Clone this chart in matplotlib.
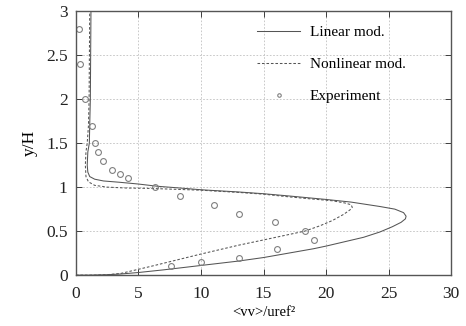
import matplotlib
matplotlib.use("Agg")
import matplotlib.pyplot as plt

# Linear model (solid)
lin_x = [0.0, 1.0, 2.5, 3.5, 5.0, 7.0, 10.0, 13.0, 15.0, 17.0, 19.0, 20.0, 21.5, 23.0,
         24.3, 25.3, 26.0, 26.35, 26.4, 26.2, 25.5, 24.3, 22.0, 20.0, 17.0, 15.0, 13.0,
         10.0, 8.3, 6.5, 5.0, 3.5, 2.2, 1.5, 1.1, 0.95, 0.9, 0.95, 1.07, 1.1, 1.15, 1.2]
lin_y = [0.0, 0.0, 0.005, 0.012, 0.03, 0.06, 0.11, 0.16, 0.2, 0.25, 0.3, 0.33, 0.38, 0.43,
         0.49, 0.55, 0.6, 0.64, 0.67, 0.71, 0.75, 0.78, 0.83, 0.86, 0.9, 0.925, 0.945,
         0.97, 0.99, 1.01, 1.035, 1.055, 1.07, 1.09, 1.12, 1.17, 1.25, 1.4, 1.5, 1.7, 2.0, 3.0]

# Nonlinear model (dashed)
nl_x = [0.0, 1.5, 2.5, 3.6, 6.0, 10.0, 13.0, 15.0, 18.3, 19.5, 20.5, 21.4, 21.9, 22.1,
        22.0, 21.5, 20.5, 18.5, 17.0, 15.0, 13.0, 10.0, 8.0, 6.0, 4.0, 2.5, 1.5, 1.0,
        0.8, 0.75, 0.8, 0.9, 1.0, 1.05, 1.1]
nl_y = [0.0, 0.0, 0.005, 0.02, 0.1, 0.24, 0.34, 0.4, 0.5, 0.56, 0.62, 0.69, 0.74, 0.77,
        0.8, 0.82, 0.845, 0.87, 0.89, 0.92, 0.94, 0.965, 0.975, 0.985, 0.99, 1.0, 1.02,
        1.06, 1.12, 1.25, 1.4, 1.5, 1.7, 2.0, 3.0]

# Experiment
exp_x = [0.25, 0.35, 0.75, 1.25, 1.5, 1.8, 2.2, 2.85, 3.5, 4.2, 6.3, 8.3, 11.0, 13.0,
         15.9, 18.3, 19.0, 16.1, 13.0, 10.0, 7.6]
exp_y = [2.8, 2.4, 2.0, 1.7, 1.5, 1.4, 1.3, 1.2, 1.15, 1.1, 1.0, 0.9, 0.8, 0.7,
         0.6, 0.5, 0.4, 0.3, 0.2, 0.15, 0.1]

x_ticks = [0, 5, 10, 15, 20, 25, 30]
y_ticks = [0, 0.5, 1, 1.5, 2, 2.5, 3]
y_ticklabels = ["0", "0.5", "1", "1.5", "2", "2.5", "3"]

plt.rcParams['font.family'] = ['Liberation Serif', 'DejaVu Serif']

fig = plt.figure(figsize=(4.66, 3.26), dpi=100)
ax = fig.add_axes([0.163, 0.156, 0.805, 0.81])

line_c = '#555555'
ax.plot(lin_x, lin_y, color=line_c, lw=0.75, label='Linear mod.')
ax.plot(nl_x, nl_y, color=line_c, lw=0.75, ls=(0, (2.5, 1.8)), label='Nonlinear mod.')
ax.plot(exp_x, exp_y, ls='none', marker='o', ms=4.2, mfc='none', mec='#808080',
        mew=0.8, label='Experiment')

ax.set_xlim(0, 30)
ax.set_ylim(0, 3)
ax.set_xticks(x_ticks)
ax.set_yticks(y_ticks)
ax.set_yticklabels(y_ticklabels)
ax.grid(True, color='#c0c0c0', ls=(0, (2, 2)), lw=0.6)
ax.tick_params(direction='in', length=4, width=0.6, top=True, right=True,
               labelsize=12.5, colors='#222222')
ax.tick_params(axis='x', pad=8)
ax.tick_params(axis='y', pad=6)
for s in ax.spines.values():
    s.set_color('#555555')
    s.set_linewidth(1.0)

ax.set_xlabel('<vv>/uref²', fontsize=10.5, labelpad=3)
ax.set_ylabel('y/H', fontsize=12.5, labelpad=6)

leg = ax.legend(loc='upper left', frameon=False, fontsize=11, handlelength=2.8,
                handletextpad=0.65, labelspacing=1.2, borderaxespad=0, borderpad=0,
                markerscale=0.6, bbox_to_anchor=(0.483, 0.945))

fig.savefig('out.png', dpi=100)
